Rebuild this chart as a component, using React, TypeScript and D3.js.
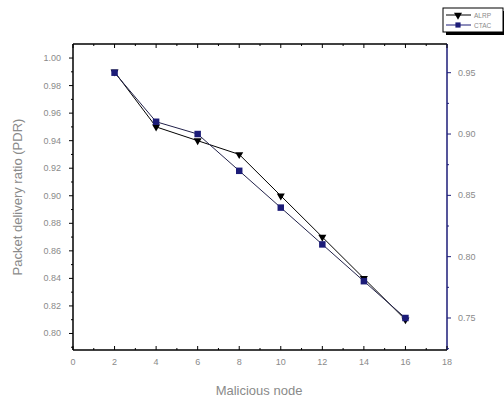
import React from "react";
import * as d3 from "d3";

const nodes = [2, 4, 6, 8, 10, 12, 14, 16];
const alrp = [0.99, 0.95, 0.94, 0.93, 0.9, 0.87, 0.84, 0.81];
const ctac = [0.95, 0.91, 0.9, 0.87, 0.84, 0.81, 0.78, 0.75];
const xTicks = [0, 2, 4, 6, 8, 10, 12, 14, 16, 18];
const leftTicks = [0.8, 0.82, 0.84, 0.86, 0.88, 0.9, 0.92, 0.94, 0.96, 0.98, 1.0];
const rightTicks = [0.75, 0.8, 0.85, 0.9, 0.95];
const seriesNames = ["ALRP", "CTAC"];

const W = 504, H = 401;
const L = 73, R = 447, T = 44, B = 350;
const navy = "#1c1c78";
const grey = "#8a8a8a";

export default function App() {
  const x = d3.scaleLinear().domain([0, 18]).range([L, R]);
  const yL = d3.scaleLinear().domain([0.788, 1.0102]).range([B, T]);
  const yR = d3.scaleLinear().domain([0.7239, 0.9734]).range([B, T]);
  const lineL = d3.line<number>().x((_, i) => x(nodes[i])).y((d) => yL(d));
  const lineR = d3.line<number>().x((_, i) => x(nodes[i])).y((d) => yR(d));
  const tri = d3.symbol().type(d3.symbolTriangle).size(28)();
  const sq = d3.symbol().type(d3.symbolSquare).size(42)();
  const xMinor = d3.range(1, 18, 2);
  const lMinor = d3.range(0.79, 1.005, 0.02);
  const rMinor = d3.range(0.725, 0.97, 0.05);
  const fs = 9;
  return (
    <svg width={W} height={H} style={{ position: "absolute", left: 0, top: 0, background: "#fff" }}
      fontFamily="Arial, 'Liberation Sans', sans-serif">
      <rect x={0} y={0} width={W} height={H} fill="#fff" />
      {/* frame */}
      <line x1={L} x2={R} y1={T} y2={T} stroke="#000" strokeWidth={1.5} />
      <line x1={L} x2={R} y1={B} y2={B} stroke="#000" strokeWidth={1.5} />
      <line x1={L} x2={L} y1={T} y2={B} stroke="#000" strokeWidth={1.5} />
      <line x1={R} x2={R} y1={T} y2={B} stroke={navy} strokeWidth={1.5} />
      {/* x ticks */}
      {xTicks.map((t) => (
        <g key={"x" + t}>
          <line x1={x(t)} x2={x(t)} y1={B} y2={B - 4} stroke="#000" />
          <line x1={x(t)} x2={x(t)} y1={T} y2={T + 4} stroke="#000" />
          <text x={x(t)} y={B + 15} fontSize={fs} fill={grey} textAnchor="middle">{t}</text>
        </g>
      ))}
      {xMinor.map((t) => (
        <g key={"xm" + t}>
          <line x1={x(t)} x2={x(t)} y1={B} y2={B - 2} stroke="#000" />
          <line x1={x(t)} x2={x(t)} y1={T} y2={T + 2} stroke="#000" />
        </g>
      ))}
      {/* left ticks */}
      {leftTicks.map((t) => (
        <g key={"l" + t}>
          <line x1={L} x2={L - 4} y1={yL(t)} y2={yL(t)} stroke="#000" />
          <text x={L - 12} y={yL(t) + 3} fontSize={fs} fill={grey} textAnchor="end">{t.toFixed(2)}</text>
        </g>
      ))}
      {lMinor.map((t) => (
        <line key={"lm" + t} x1={L} x2={L - 2} y1={yL(t)} y2={yL(t)} stroke="#000" />
      ))}
      {/* right ticks */}
      {rightTicks.map((t) => (
        <g key={"r" + t}>
          <line x1={R} x2={R + 4} y1={yR(t)} y2={yR(t)} stroke={navy} />
          <text x={R + 11} y={yR(t) + 3} fontSize={fs} fill={grey} textAnchor="start">{t.toFixed(2)}</text>
        </g>
      ))}
      {rMinor.map((t) => (
        <line key={"rm" + t} x1={R} x2={R + 2} y1={yR(t)} y2={yR(t)} stroke={navy} />
      ))}
      {/* series */}
      <path d={lineL(alrp) || ""} fill="none" stroke="#000" strokeWidth={1} />
      <path d={lineR(ctac) || ""} fill="none" stroke="#22224a" strokeWidth={1} />
      {alrp.map((v, i) => (
        <path key={"a" + i} d={tri || ""} transform={`translate(${x(nodes[i])},${yL(v)}) rotate(180)`} fill="#000" />
      ))}
      {ctac.map((v, i) => (
        <path key={"c" + i} d={sq || ""} transform={`translate(${x(nodes[i])},${yR(v)})`} fill={navy} />
      ))}
      {/* axis titles */}
      <text x={259} y={395} fontSize={13} fill={grey} textAnchor="middle">Malicious node</text>
      <text transform={`translate(22,197) rotate(-90)`} fontSize={13} fill={grey} textAnchor="middle">
        Packet delivery ratio (PDR)
      </text>
      {/* legend */}
      <rect x={446} y={11} width={60} height={24} fill="#000" />
      <rect x={443} y={8} width={60} height={24} fill="#fff" stroke="#000" strokeWidth={1} />
      <line x1={446} x2={471} y1={15} y2={15} stroke="#000" />
      <path d={tri || ""} transform="translate(458,15) rotate(180)" fill="#000" />
      <text x={474} y={17.5} fontSize={6.5} fill={grey}>{seriesNames[0]}</text>
      <line x1={446} x2={471} y1={25} y2={25} stroke={navy} />
      <path d={sq || ""} transform="translate(458,25) scale(0.8)" fill={navy} />
      <text x={474} y={27.5} fontSize={6.5} fill={grey}>{seriesNames[1]}</text>
    </svg>
  );
}
